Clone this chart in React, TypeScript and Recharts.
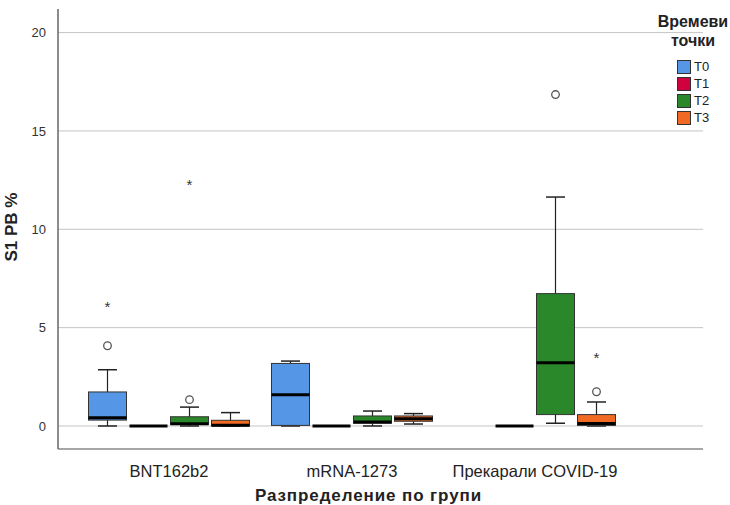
import React from 'react';
import { BarChart, Bar, XAxis, YAxis, CartesianGrid } from 'recharts';

// groups on the x axis and the four time points
const groups = ['BNT162b2', 'mRNA-1273', 'Прекарали COVID-19'];
const timepoints = ['T0', 'T1', 'T2', 'T3'];
const yTicks = [0, 5, 10, 15, 20];

// [whisker low, Q1, median, Q3, whisker high] per group (null = no data)
const boxT0 = [[0, 0.3, 0.42, 1.73, 2.86], [0, 0.03, 1.59, 3.18, 3.3], null];
const boxT1 = [[0, 0, 0, 0, 0], [0, 0, 0, 0, 0], [0, 0, 0, 0, 0]];
const boxT2 = [[0, 0.08, 0.12, 0.47, 0.96], [0, 0.14, 0.2, 0.51, 0.76], [0.14, 0.58, 3.22, 6.73, 11.64]];
const boxT3 = [[0, 0, 0.04, 0.29, 0.68], [0.1, 0.24, 0.37, 0.51, 0.63], [0, 0.03, 0.13, 0.58, 1.22]];

// outliers (circles) and extreme values (stars)
const outT0 = [[4.08], [], []];
const outT1 = [[], [], []];
const outT2 = [[1.34], [], [16.85]];
const outT3 = [[], [], [1.74]];
const extT0 = [[6.09], [], []];
const extT1 = [[], [], []];
const extT2 = [[12.28], [], []];
const extT3 = [[], [], [3.49]];

const colors = {
  T0: '#5596E6',
  T1: '#D1003F',
  T2: '#2A882A',
  T3: '#F16A24',
};

const FONT = 'Liberation Sans, Arial, sans-serif';

const boxes: Record<string, (number[] | null)[]> = { T0: boxT0, T1: boxT1, T2: boxT2, T3: boxT3 };
const outliers: Record<string, number[][]> = { T0: outT0, T1: outT1, T2: outT2, T3: outT3 };
const extremes: Record<string, number[][]> = { T0: extT0, T1: extT1, T2: extT2, T3: extT3 };

// each bar spans everything drawn for that box; the shape places the parts inside it
const data = groups.map((g, i) => {
  const row: any = { group: g };
  timepoints.forEach((tp) => {
    const b = boxes[tp][i];
    if (!b) {
      row[tp] = null;
      return;
    }
    const all = [...b, ...outliers[tp][i], ...extremes[tp][i]];
    row[tp] = [Math.min(...all), Math.max(...all)];
    row[tp + 'Stats'] = { box: b, out: outliers[tp][i], ext: extremes[tp][i] };
  });
  return row;
});

const makeBoxShape = (tp: string) => (props: any) => {
  const { x, y, width, height, payload } = props;
  const st = payload[tp + 'Stats'];
  if (!st) return <g />;
  const [lo, hi] = payload[tp];
  const py = (v: number) => (hi > lo ? y + (height * (hi - v)) / (hi - lo) : y);
  const [wLo, q1, med, q3, wHi] = st.box;
  const cx = x + width / 2;
  const cap = width / 4;
  return (
    <g>
      <line x1={cx} x2={cx} y1={py(wHi)} y2={py(q3)} stroke="#222" strokeWidth={1.2} />
      <line x1={cx} x2={cx} y1={py(q1)} y2={py(wLo)} stroke="#222" strokeWidth={1.2} />
      <line x1={cx - cap} x2={cx + cap} y1={py(wHi)} y2={py(wHi)} stroke="#222" strokeWidth={1.5} />
      <line x1={cx - cap} x2={cx + cap} y1={py(wLo)} y2={py(wLo)} stroke="#222" strokeWidth={1.5} />
      <rect
        x={x}
        y={py(q3)}
        width={width}
        height={Math.max(py(q1) - py(q3), 0)}
        fill={colors[tp as keyof typeof colors]}
        stroke="#333"
        strokeWidth={1}
      />
      <line x1={x} x2={x + width} y1={py(med)} y2={py(med)} stroke="#000" strokeWidth={3} />
      {st.out.map((v: number, k: number) => (
        <circle key={'o' + k} cx={cx} cy={py(v)} r={3.8} fill="#fff" stroke="#555" strokeWidth={1.3} />
      ))}
      {st.ext.map((v: number, k: number) => (
        <text key={'e' + k} x={cx} y={py(v) + 6} textAnchor="middle" fontSize={15} fontFamily={FONT} fill="#333">
          *
        </text>
      ))}
    </g>
  );
};

const GroupTick = (props: any) => {
  const { x, y, payload } = props;
  return (
    <text x={x} y={y + 16} textAnchor="middle" dominantBaseline="middle" fontSize={16.5} fontFamily={FONT} fill="#222">
      {payload.value}
    </text>
  );
};

const App: React.FC = () => {
  return (
    <div style={{ position: 'absolute', left: 0, top: 0, width: 730, height: 505, background: '#fff' }}>
      <BarChart
        width={730}
        height={505}
        data={data}
        margin={{ top: 9, right: 27, bottom: 0, left: 0 }}
        barSize={38}
        barGap={3}
      >
        <CartesianGrid vertical={false} syncWithTicks stroke="#c4c4c4" strokeWidth={1} />
        <XAxis
          dataKey="group"
          height={56}
          padding={{ left: 19.5, right: 76.5 }}
          tickLine={false}
          axisLine={{ stroke: '#888', strokeWidth: 1.5 }}
          tick={<GroupTick />}
          interval={0}
          label={{
            value: 'Разпределение по групи',
            position: 'insideBottom',
            offset: 4,
            dx: -12,
            style: { fontSize: 17, fontWeight: 700, fill: '#222', fontFamily: FONT, letterSpacing: 0.9 },
          }}
        />
        <YAxis
          type="number"
          width={58}
          domain={[-1.17, 21.2]}
          ticks={yTicks}
          tickLine={false}
          axisLine={{ stroke: '#666', strokeWidth: 1.5 }}
          tickMargin={6}
          tick={{ fontSize: 13, fill: '#333', fontFamily: FONT }}
          label={{
            value: 'S1 PB %',
            angle: -90,
            position: 'insideLeft',
            offset: 11,
            dy: -2,
            style: { fontSize: 17, fontWeight: 700, fill: '#222', fontFamily: FONT, textAnchor: 'middle' },
          }}
        />
        {timepoints.map((tp) => (
          <Bar key={tp} dataKey={tp} name={tp} fill={colors[tp as keyof typeof colors]} shape={makeBoxShape(tp)} isAnimationActive={false} />
        ))}
      </BarChart>
      <div style={{ position: 'absolute', left: 654, top: 12, width: 78, fontFamily: FONT, color: '#222' }}>
        <div style={{ fontSize: 16, fontWeight: 700, textAlign: 'center', lineHeight: '19px' }}>
          Времеви
          <br />
          точки
        </div>
        <div style={{ marginTop: 8, marginLeft: 23 }}>
          {timepoints.map((tp) => (
            <div key={tp} style={{ display: 'flex', alignItems: 'center', height: 17, fontSize: 13 }}>
              <span
                style={{
                  display: 'inline-block',
                  width: 12,
                  height: 12,
                  background: colors[tp as keyof typeof colors],
                  border: '1px solid #333',
                  marginRight: 3,
                }}
              />
              {tp}
            </div>
          ))}
        </div>
      </div>
    </div>
  );
};

export default App;
